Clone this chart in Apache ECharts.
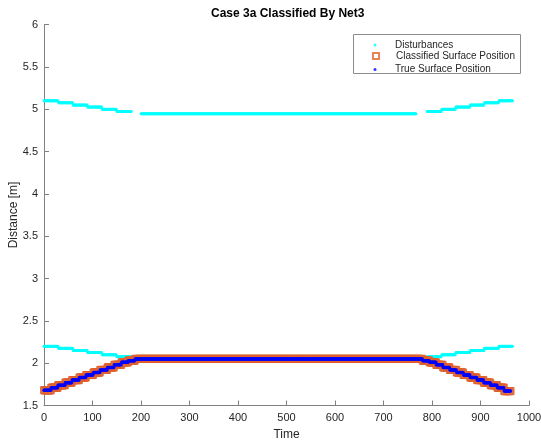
<!DOCTYPE html>
<html>
<head>
<meta charset="utf-8">
<script src="https://cdn.jsdelivr.net/npm/echarts@6/dist/echarts.min.js"></script>
<style>
  html, body { margin: 0; padding: 0; background: #fff; }
  #chart { width: 541px; height: 442px; }
</style>
</head>
<body>
<div id="chart"></div>
<script>
// Run-length records: [firstTime, lastTime, distance in m]
const disturbanceUpperSteps = [
  [0, 29, 5.10], [30, 59, 5.075], [60, 89, 5.05], [90, 119, 5.025], [120, 149, 5.0], [150, 180, 4.972],
  [200, 767, 4.945],
  [790, 819, 4.972], [820, 848, 5.0], [849, 878, 5.025], [879, 907, 5.05], [908, 937, 5.075], [938, 966, 5.10]
];
const disturbanceLowerSteps = [
  [0, 29, 2.20], [30, 59, 2.175], [60, 89, 2.15], [90, 119, 2.125], [120, 149, 2.10], [150, 180, 2.075],
  [200, 767, 2.05],
  [790, 819, 2.075], [820, 848, 2.10], [849, 878, 2.125], [879, 907, 2.15], [908, 937, 2.175], [938, 966, 2.20]
];
const trueSurfaceSteps = [
  [0, 14, 1.68], [15, 28, 1.71], [29, 43, 1.74], [44, 57, 1.77], [58, 72, 1.80], [73, 86, 1.83],
  [87, 101, 1.86], [102, 115, 1.89], [116, 130, 1.92], [131, 144, 1.95], [145, 159, 1.98], [160, 173, 2.01],
  [174, 187, 2.03],
  [188, 780, 2.05],
  [781, 794, 2.03], [795, 808, 2.01], [809, 822, 1.98], [823, 836, 1.95], [837, 850, 1.92], [851, 864, 1.89],
  [865, 878, 1.86], [879, 892, 1.83], [893, 906, 1.80], [907, 920, 1.77], [921, 934, 1.74], [935, 948, 1.71],
  [949, 962, 1.67]
];
// Net3 output coincides with the true surface at every time step
const classifiedSurfaceSteps = trueSurfaceSteps;

const seriesNames = ['Disturbances', 'Classified Surface Position', 'True Surface Position'];
const xRange = { min: 0, max: 1000, interval: 100 };
const yRange = { min: 1.5, max: 6, interval: 0.5 };

// Expand run-length records into one sample per time step
function expand(steps) {
  const pts = [];
  steps.forEach(([a, b, v]) => {
    for (let t = a; t <= b; t++) pts.push([t, v]);
  });
  return pts;
}

const FONT = '"Liberation Sans", Arial, Helvetica, sans-serif';
const AXIS_GREY = '#808080';
const TEXT = '#262626';

const chart = echarts.init(document.getElementById('chart'), null, { renderer: 'canvas' });

function legendRow(name, top, size) {
  const iconLeft = 375 - size / 2;
  return {
    data: [name],
    orient: 'horizontal',
    left: iconLeft,
    top: top - size / 2,
    padding: 0,
    itemWidth: size,
    itemHeight: size,
    selectedMode: false,
    textStyle: {
      fontFamily: FONT, fontSize: 10, color: TEXT,
      padding: [0, 0, 0, 395 - (iconLeft + size + 5)]
    }
  };
}

chart.setOption({
  animation: false,
  backgroundColor: '#fff',
  title: {
    text: 'Case 3a Classified By Net3',
    left: 211,
    top: 8,
    padding: 0,
    textStyle: { fontFamily: FONT, fontSize: 12, fontWeight: 'bold', color: '#000' }
  },
  graphic: [{
    type: 'rect',
    z: 3,
    shape: { x: 353.5, y: 34.5, width: 167, height: 39 },
    style: { fill: '#fff', stroke: '#8c8c8c', lineWidth: 1 }
  }],
  legend: [
    legendRow(seriesNames[0], 41.5, 3),
    legendRow(seriesNames[1], 54, 6),
    legendRow(seriesNames[2], 66, 3)
  ],
  grid: { left: 44, right: 12, top: 24.5, bottom: 36.5, containLabel: false, outerBoundsMode: 'none' },
  xAxis: {
    type: 'value',
    min: xRange.min, max: xRange.max, interval: xRange.interval,
    name: 'Time',
    nameLocation: 'middle',
    nameGap: 23,
    nameMoveOverlap: false,
    nameTextStyle: { fontFamily: FONT, fontSize: 12, color: TEXT },
    axisLine: { show: true, onZero: false, lineStyle: { color: AXIS_GREY, width: 1 } },
    axisTick: { show: true, inside: true, length: 5, lineStyle: { color: AXIS_GREY } },
    axisLabel: {
      fontFamily: FONT, fontSize: 11, color: TEXT, margin: 7,
      showMinLabel: true, showMaxLabel: true,
      formatter: v => String(v)
    },
    splitLine: { show: false }
  },
  yAxis: {
    type: 'value',
    min: yRange.min, max: yRange.max, interval: yRange.interval,
    name: 'Distance [m]',
    nameLocation: 'middle',
    nameGap: 24,
    nameMoveOverlap: false,
    nameTextStyle: { fontFamily: FONT, fontSize: 12, color: TEXT },
    axisLine: { show: true, onZero: false, lineStyle: { color: AXIS_GREY, width: 1 } },
    axisTick: { show: true, inside: true, length: 5, lineStyle: { color: AXIS_GREY } },
    axisLabel: {
      fontFamily: FONT, fontSize: 11, color: TEXT, margin: 6,
      showMinLabel: true, showMaxLabel: true,
      formatter: v => String(v)
    },
    splitLine: { show: false }
  },
  series: [
    {
      name: seriesNames[0],
      type: 'scatter',
      symbol: 'circle',
      symbolSize: 3,
      progressive: 0,
      itemStyle: { color: '#00ffff' },
      data: expand(disturbanceUpperSteps).concat(expand(disturbanceLowerSteps))
    },
    {
      name: seriesNames[1],
      type: 'scatter',
      symbol: 'rect',
      symbolSize: 7,
      progressive: 0,
      itemStyle: { color: 'rgba(0,0,0,0)', borderColor: '#e0622e', borderWidth: 1 },
      data: expand(classifiedSurfaceSteps)
    },
    {
      name: seriesNames[2],
      type: 'scatter',
      symbol: 'circle',
      symbolSize: 3.5,
      progressive: 0,
      itemStyle: { color: '#0000ff' },
      data: expand(trueSurfaceSteps)
    }
  ]
});
</script>
</body>
</html>
